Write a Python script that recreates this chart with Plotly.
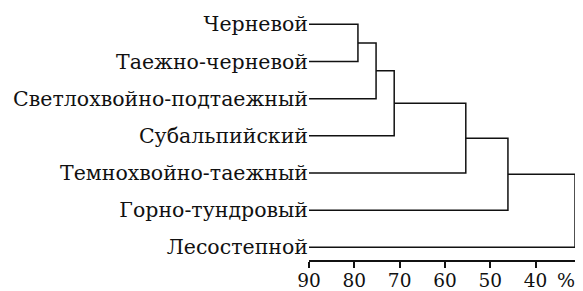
import plotly.graph_objects as go

labels = ["Черневой", "Таежно-черневой", "Светлохвойно-подтаежный", "Субальпийский",
          "Темнохвойно-таежный", "Горно-тундровый", "Лесостепной"]
merge_heights = [79.2, 75.2, 71.2, 55.4, 46.1, 31.3]
tick_vals = [90, 80, 70, 60, 50, 40]
tick_text = ["90", "80", "70", "60", "50", "40"]
leaf_origin = 90

n = len(labels)
leaf_y = [n - 1 - i for i in range(n)]

xs, ys = [], []
cur_x, cur_y = leaf_origin, leaf_y[0]
for k, m in enumerate(merge_heights):
    ly = leaf_y[k + 1]
    xs += [cur_x, m, m, leaf_origin, None]
    ys += [cur_y, cur_y, ly, ly, None]
    cur_x, cur_y = m, (cur_y + ly) / 2

FONT = "DejaVu Serif"
fig = go.Figure()
fig.add_trace(go.Scatter(x=xs, y=ys, mode="lines",
                         line=dict(color="#111", width=1.5), hoverinfo="skip",
                         showlegend=False, cliponaxis=False))
# page body has an 8px margin, so the figure is sized/offset to compensate
fig.update_layout(
    width=575, height=283,
    margin=dict(l=301, r=3, t=0, b=31),
    paper_bgcolor="white", plot_bgcolor="white",
    font=dict(family=FONT, size=20, color="#111"),
    xaxis=dict(range=[90, 30.2], tickvals=tick_vals, ticktext=tick_text,
               showgrid=False, zeroline=False, showline=True, linecolor="#111",
               linewidth=1.5, ticks="outside", ticklen=6, tickwidth=1.5,
               tickcolor="#111", tickfont=dict(size=18.5), automargin=False,
               ticklabelstandoff=-3),
    yaxis=dict(range=[-0.342, 6.439], tickvals=leaf_y, ticktext=labels,
               showgrid=False, zeroline=False, showline=False, ticks="",
               tickfont=dict(size=20.5), automargin=False),
)
fig.add_annotation(x=33.2, y=0, xref="x", yref="paper", yanchor="top",
                   yshift=-7, text="%", showarrow=False, font=dict(size=19))
fig.write_html("out.html")
